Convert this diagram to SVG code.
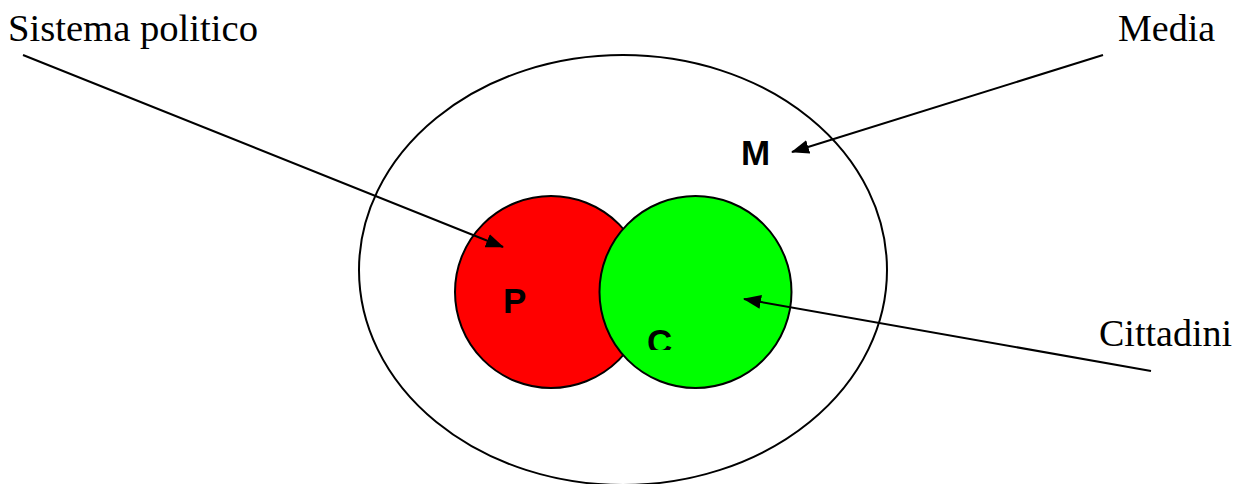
<svg xmlns="http://www.w3.org/2000/svg" width="1243" height="484" viewBox="0 0 1243 484">
<style>
.lbl{font-family:"Liberation Serif","Times New Roman",serif;font-size:38px;fill:#000}
.big{font-family:"Liberation Sans",Arial,sans-serif;font-size:35px;font-weight:bold;fill:#000}
.conn{stroke:#000;stroke-width:2;fill:none}
.shape{stroke:#000;stroke-width:2}
</style>
<defs>
<marker id="ah" viewBox="0 0 18 14" refX="17" refY="7" markerWidth="9" markerHeight="7" markerUnits="strokeWidth" orient="auto">
<path d="M0,0 L18,7 L0,14 z" fill="#000"/>
</marker>
<clipPath id="cclip"><rect x="600" y="300" width="120" height="50"/></clipPath>
</defs>
<rect width="1243" height="484" fill="#fff"/>
<g id="media-ellipse">
<ellipse cx="623" cy="270" rx="264" ry="215" class="shape" fill="#fff"/>
<text x="741" y="165" class="big">M</text>
</g>
<g id="P">
<circle cx="551" cy="292" r="96" class="shape" fill="#ff0000"/>
<text x="503" y="313" class="big">P</text>
</g>
<g id="C">
<circle cx="695.5" cy="292" r="96" class="shape" fill="#00ff00"/>
<text x="647" y="354" class="big" clip-path="url(#cclip)">C</text>
</g>
<g id="label-sistema"><text x="8" y="41" class="lbl" textLength="250" lengthAdjust="spacingAndGlyphs">Sistema politico</text></g>
<g id="label-media"><text x="1118" y="41" class="lbl">Media</text></g>
<g id="label-cittadini"><text x="1099" y="346" class="lbl">Cittadini</text></g>
<g id="connectors">
<line x1="23" y1="55" x2="503" y2="247" class="conn" marker-end="url(#ah)"/>
<line x1="1103" y1="55" x2="792" y2="152" class="conn" marker-end="url(#ah)"/>
<line x1="1151" y1="371" x2="744" y2="299" class="conn" marker-end="url(#ah)"/>
</g>
</svg>
